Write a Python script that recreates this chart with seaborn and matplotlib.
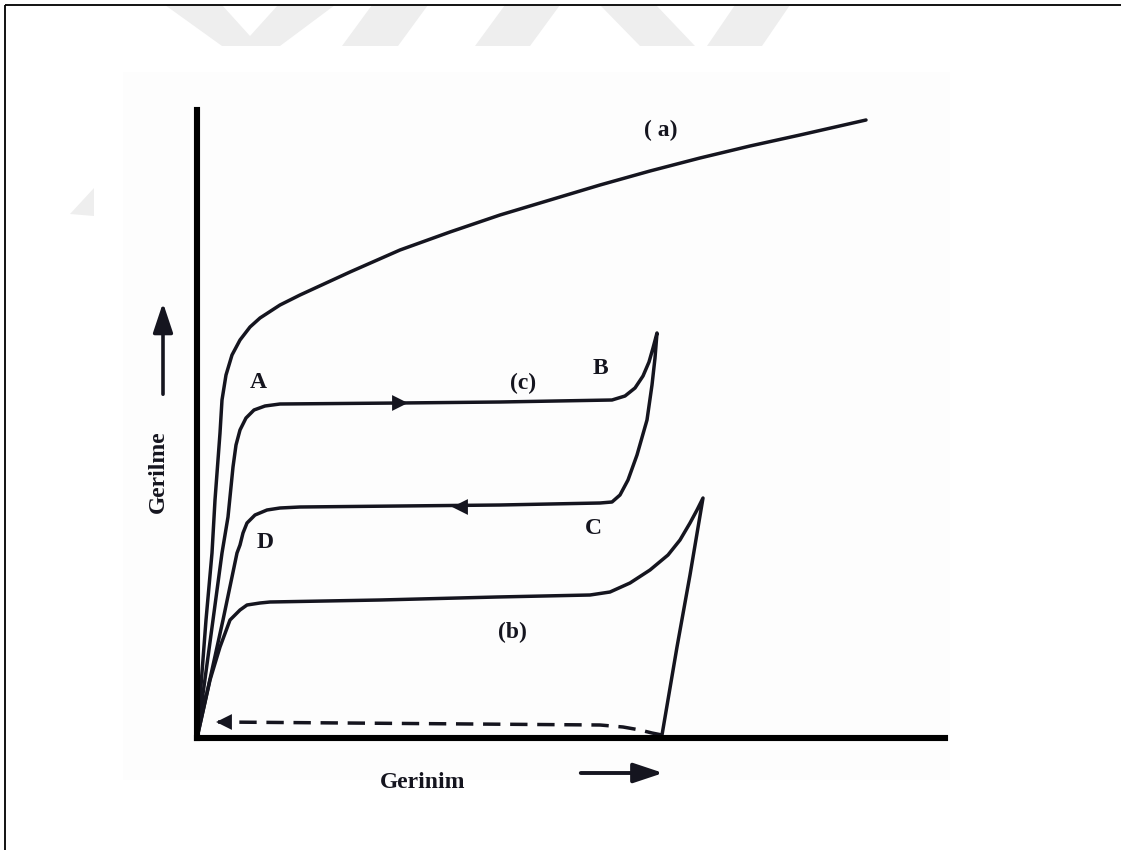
import matplotlib
matplotlib.use("Agg")
import matplotlib.pyplot as plt
import seaborn as sns
from matplotlib.patches import Polygon, Rectangle

sns.set_theme(style="white")
plt.rcParams["font.family"] = ["Liberation Serif", "DejaVu Serif"]
plt.rcParams["lines.solid_joinstyle"] = "round"
plt.rcParams["lines.solid_capstyle"] = "round"

# ---------------- data (strain / stress, arbitrary units) ----------------
a_strain = [0, 9, 15, 18, 23, 25, 29, 35, 43, 53, 63, 83, 103, 153, 203, 253,
            303, 353, 403, 453, 503, 553, 603, 669]
a_stress = [0, 118, 185, 238, 305, 338, 363, 383, 398, 411, 420, 433, 443, 466,
            488, 506, 523, 538, 553, 567, 580, 592, 603, 618]

c_strain = [0, 16, 25, 31, 36, 39, 43, 49, 57, 68, 83, 203, 303, 415, 428, 438,
            446, 452, 456, 460,
            458, 455, 450, 440, 431, 423, 415, 403, 303, 203, 103, 83, 70, 58,
            50, 46, 43, 40, 26, 0]
c_stress = [0, 118, 185, 221, 271, 293, 308, 320, 328, 332, 334, 335, 336, 338,
            342, 350, 362, 376, 390, 405,
            380, 353, 318, 283, 258, 243, 236, 235, 233, 232, 231, 230, 228, 223,
            215, 205, 193, 185, 118, 0]

b_strain = [0, 13, 23, 33, 43, 50, 63, 73, 183, 300, 393, 413, 433, 453, 471,
            483, 493, 500, 506, 493, 480, 465]
b_stress = [0, 58, 91, 118, 128, 133, 135, 136, 138, 141, 143, 146, 155, 168,
            183, 198, 215, 228, 240, 163, 91, 3]

b_return_strain = [465, 455, 443, 426, 403, 21]
b_return_stress = [3, 5, 8, 11, 13, 16]

arrow_strain = [203, 263, 27]
arrow_stress = [335, 231, 16]
arrow_dir = ["load", "unload", "return"]

labels = ["( a)", "A", "(c)", "B", "C", "D", "(b)"]
label_strain = [464, 61, 326, 403, 396, 68, 315]
label_stress = [608, 356, 355, 370, 210, 195, 106]

y_title = "Gerilme"
x_title = "Gerinim"

# ---------------- figure ----------------
W, H = 1121, 850
ink = "#15151f"
fig = plt.figure(figsize=(W / 100, H / 100), dpi=100)
fig.patch.set_facecolor("white")

bg = fig.add_axes([0, 0, 1, 1])
bg.set_xlim(0, W)
bg.set_ylim(H, 0)
bg.axis("off")

# faint scanned-image area
bg.add_patch(Rectangle((123, 72), 827, 708, facecolor="#fdfdfd",
                       edgecolor="none", zorder=0))
# watermark fragments
wm = "#eeeeee"
wm_polys = [
    [(165, 5), (222, 5), (250, 36), (278, 5), (335, 5), (280, 46), (222, 46)],
    [(372, 5), (428, 5), (398, 46), (342, 46)],
    [(505, 5), (560, 5), (530, 46), (475, 46)],
    [(600, 5), (656, 5), (695, 46), (640, 46)],
    [(735, 5), (790, 5), (762, 46), (707, 46)],
    [(94, 188), (94, 216), (70, 214)],
]
for p in wm_polys:
    bg.add_patch(Polygon(p, closed=True, facecolor=wm, edgecolor="none",
                         zorder=1))

# page border (top and left)
bg.plot([5, W], [5, 5], color="black", lw=1.3, solid_capstyle="butt")
bg.plot([5, 5], [5, H], color="black", lw=1.3, solid_capstyle="butt")

# axis titles and direction arrows
bg.text(158, 472, y_title, rotation=90, ha="center", va="center",
        fontsize=17, fontweight="bold", color=ink)
bg.text(423, 783, x_title, ha="center", va="center",
        fontsize=17, fontweight="bold", color=ink)
bg.annotate("", xy=(163, 300), xytext=(163, 397),
            arrowprops=dict(arrowstyle="-|>,head_length=0.9,head_width=0.3",
                            lw=2.6, color=ink, mutation_scale=20))
bg.annotate("", xy=(666, 773), xytext=(578, 773),
            arrowprops=dict(arrowstyle="-|>,head_length=0.9,head_width=0.3",
                            lw=2.8, color=ink, mutation_scale=20))

# ---------------- chart axes ----------------
ax = fig.add_axes([197 / W, (H - 738) / H, 748 / W, 628 / H])
ax.patch.set_alpha(0)
ax.set_xlim(0, 748)
ax.set_ylim(0, 628)

lw = 2.5
sns.lineplot(x=a_strain, y=a_stress, sort=False, estimator=None, ax=ax,
             color=ink, lw=lw)
sns.lineplot(x=c_strain, y=c_stress, sort=False, estimator=None, ax=ax,
             color=ink, lw=lw)
sns.lineplot(x=b_strain, y=b_stress, sort=False, estimator=None, ax=ax,
             color=ink, lw=lw)
sns.lineplot(x=b_return_strain, y=b_return_stress, sort=False, estimator=None,
             ax=ax, color=ink, lw=lw, linestyle=(0, (5.0, 2.8)))
sns.scatterplot(x=arrow_strain, y=arrow_stress, style=arrow_dir,
                markers={"load": ">", "unload": "<", "return": "<"},
                s=130, color=ink, linewidth=0, legend=False, ax=ax, zorder=5)

for txt, xs, ys in zip(labels, label_strain, label_stress):
    ax.text(xs, ys, txt, ha="center", va="center", fontsize=17,
            fontweight="bold", color=ink)

for s in ["top", "right"]:
    ax.spines[s].set_visible(False)
for s in ["left", "bottom"]:
    ax.spines[s].set_visible(True)
    ax.spines[s].set_linewidth(4.4)
    ax.spines[s].set_color("black")
    ax.spines[s].set_capstyle("projecting")
ax.set_xticks([])
ax.set_yticks([])
ax.set_xlabel("")
ax.set_ylabel("")

fig.savefig("out.png", dpi=100, facecolor="white")
